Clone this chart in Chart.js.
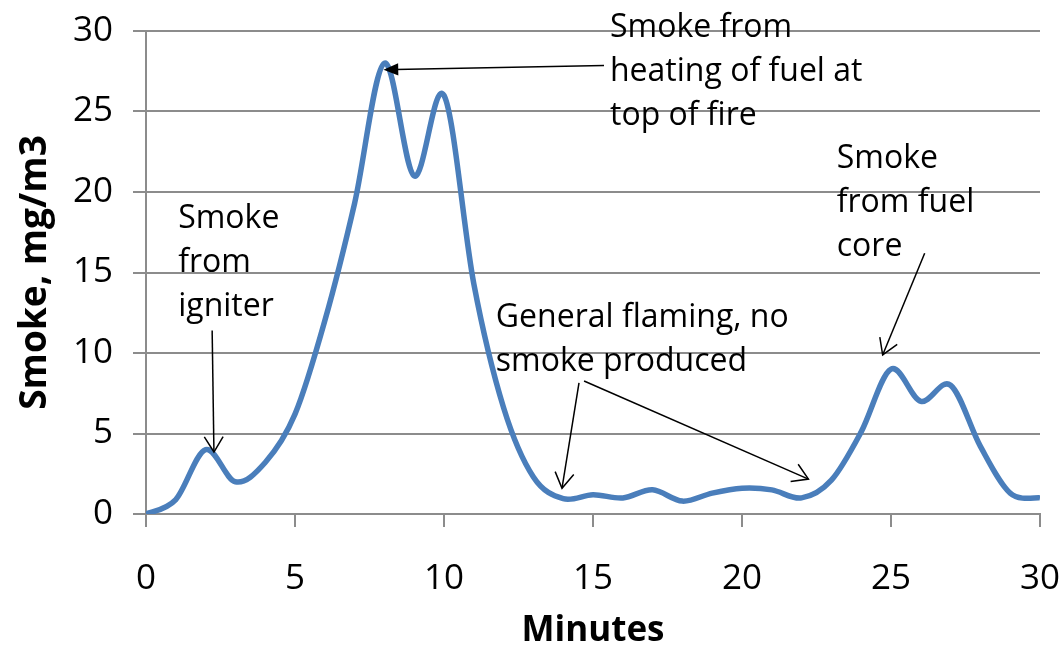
<!DOCTYPE html>
<html>
<head>
<meta charset="utf-8">
<script src="https://cdn.jsdelivr.net/npm/chart.js@4.4.1/dist/chart.umd.min.js"></script>
<style>
body{margin:0;background:#fff}
</style>
</head>
<body>
<canvas id="myChart" width="1061" height="645"></canvas>
<script>

var minutes = [0,1,2,3,4,5,6,7,8,9,10,11,12,13,14,15,16,17,18,19,20,21,22,23,24,25,26,27,28,29,30];
var smoke = [0,0.9,4,2,3.2,6.2,12,19.3,28,21,26,14.3,6.6,2.3,0.95,1.2,1,1.5,0.8,1.3,1.6,1.5,1,2.1,5.1,9,7,8,4.2,1.3,1];
var xTicks = [0,5,10,15,20,25,30];
var yTicks = [0,5,10,15,20,25,30];

var notes = [
	{x: 1.08, y: 17.76, lines: ['Smoke', 'from', 'igniter']},
	{x: 15.57, y: 29.63, lines: ['Smoke from', 'heating of fuel at', 'top of fire']},
	{x: 11.74, y: 11.61, lines: ['General flaming, no', 'smoke produced']},
	{x: 23.18, y: 21.49, lines: ['Smoke', 'from fuel', 'core']}
];

var arrows = [
	{from: [2.22, 11.4], to: [2.28, 3.85], head: 'open'},
	{from: [15.37, 27.85], to: [7.97, 27.6], head: 'filled'},
	{from: [14.53, 8.14], to: [13.96, 1.6], head: 'open'},
	{from: [14.7, 8.26], to: [22.23, 2.17], head: 'open'},
	{from: [26.13, 16.2], to: [24.72, 9.88], head: 'open'}
];

var grey = '#8c8c8c';
var font = 'Open Sans';

function noPadding(s) {
	s.paddingTop = 0;
	s.paddingBottom = 0;
	s.paddingLeft = 0;
	s.paddingRight = 0;
}

// excel style smoothing: even handles on every point
var smoothPlugin = {
	id: 'smooth',
	beforeDatasetsDraw: function(chart) {
		var meta = chart.getDatasetMeta(0);
		var pts = meta.data;
		for (var i = 0; i < pts.length; i++) {
			var p = pts[i];
			var prev = pts[i - 1] || p;
			var next = pts[i + 1] || p;
			var dx = (next.x - prev.x) / 6;
			var dy = (next.y - prev.y) / 6;
			p.cp1x = p.x - dx;
			p.cp1y = p.y - dy;
			p.cp2x = p.x + dx;
			p.cp2y = p.y + dy;
		}
		meta.dataset._pointsUpdated = true;
		meta.dataset._path = undefined;
	}
};

var notesPlugin = {
	id: 'notes',
	afterDraw: function(chart) {
		var c = chart.ctx;
		var xs = chart.scales.x;
		var ys = chart.scales.y;
		c.save();
		c.fillStyle = '#000';
		c.font = '32px "' + font + '"';
		c.textBaseline = 'alphabetic';
		c.textAlign = 'left';
		notes.forEach(function(n) {
			var px = xs.getPixelForValue(n.x);
			var py = ys.getPixelForValue(n.y);
			n.lines.forEach(function(t, i) {
				c.fillText(t, px, py + i * 44);
			});
		});
		c.strokeStyle = '#000';
		c.lineWidth = 1.5;
		arrows.forEach(function(a) {
			var x1 = xs.getPixelForValue(a.from[0]), y1 = ys.getPixelForValue(a.from[1]);
			var x2 = xs.getPixelForValue(a.to[0]), y2 = ys.getPixelForValue(a.to[1]);
			var ang = Math.atan2(y2 - y1, x2 - x1);
			c.beginPath();
			c.moveTo(x1, y1);
			if (a.head == 'filled') {
				c.lineTo(x2 - 12 * Math.cos(ang), y2 - 12 * Math.sin(ang));
				c.stroke();
				c.beginPath();
				c.moveTo(x2, y2);
				c.lineTo(x2 - 16 * Math.cos(ang - 0.4), y2 - 16 * Math.sin(ang - 0.4));
				c.lineTo(x2 - 16 * Math.cos(ang + 0.4), y2 - 16 * Math.sin(ang + 0.4));
				c.closePath();
				c.fillStyle = '#000';
				c.fill();
			} else {
				c.lineTo(x2, y2);
				c.stroke();
				c.beginPath();
				c.moveTo(x2 - 18 * Math.cos(ang - 0.55), y2 - 18 * Math.sin(ang - 0.55));
				c.lineTo(x2, y2);
				c.lineTo(x2 - 18 * Math.cos(ang + 0.55), y2 - 18 * Math.sin(ang + 0.55));
				c.stroke();
			}
		});
		c.restore();
	}
};

var ctx = document.getElementById('myChart').getContext('2d');

var myChart = new Chart(ctx, {
	type: 'line',
	data: {
		datasets: [{
			data: minutes.map(function(m, i) { return {x: m, y: smoke[i]}; }),
			borderColor: '#4a7ebb',
			borderWidth: 5.5,
			pointRadius: 0,
			tension: 0.4,
			fill: false
		}]
	},
	options: {
		responsive: false,
		animation: false,
		layout: {padding: {top: 31, right: 21, left: 0, bottom: 0}},
		plugins: {legend: {display: false}, tooltip: {enabled: false}},
		scales: {
			x: {
				type: 'linear',
				min: 0,
				max: 30,
				afterBuildTicks: function(s) { s.ticks = xTicks.map(function(v) { return {value: v}; }); },
				afterFit: function(s) { s.height = 131; noPadding(s); },
				grid: {drawOnChartArea: false, drawTicks: true, tickLength: 13, color: grey, lineWidth: 2},
				border: {color: grey, width: 2},
				ticks: {color: '#000', font: {family: font, size: 35}, padding: 31, maxRotation: 0},
				title: {display: true, text: 'Minutes', color: '#000', font: {family: font, size: 35, weight: 'bold', lineHeight: 1}, padding: {top: 0, bottom: -4}}
			},
			y: {
				min: 0,
				max: 30,
				afterBuildTicks: function(s) { s.ticks = yTicks.map(function(v) { return {value: v}; }); },
				afterFit: function(s) { s.width = 146; noPadding(s); },
				grid: {drawTicks: true, tickLength: 13, color: grey, lineWidth: 2},
				border: {color: grey, width: 2},
				ticks: {color: '#000', font: {family: font, size: 35}, padding: 20},
				title: {display: true, text: 'Smoke, mg/m3', color: '#000', font: {family: font, size: 37, weight: 'bold', lineHeight: 1}, padding: {top: 17, bottom: 0}}
			}
		}
	},
	plugins: [smoothPlugin, notesPlugin]
});
</script>
</body>
</html>
